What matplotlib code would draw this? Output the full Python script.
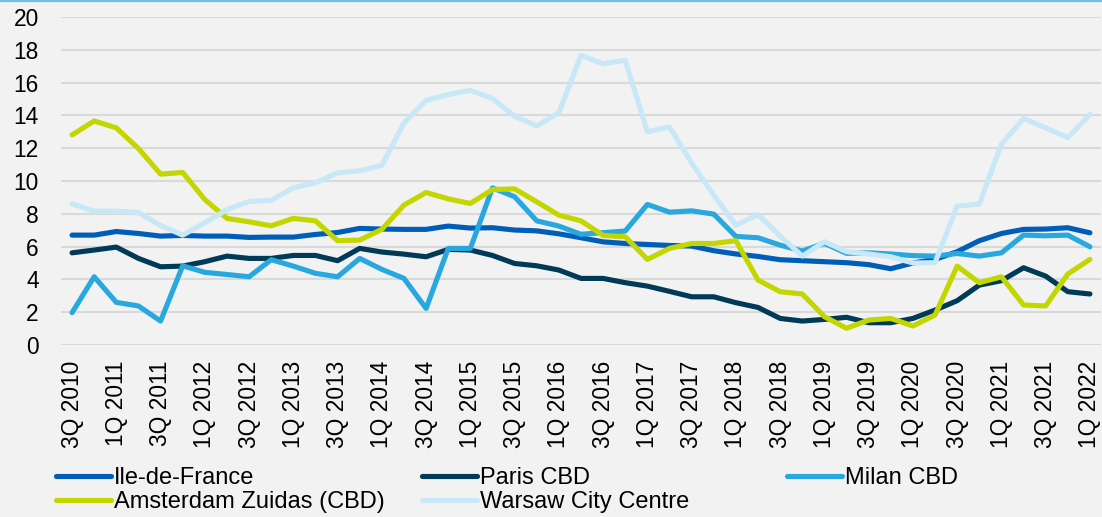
import numpy as np
import matplotlib
matplotlib.use('Agg')
import matplotlib.pyplot as plt
from matplotlib.lines import Line2D

plt.rcParams['font.family'] = ['Liberation Sans', 'DejaVu Sans']

# quarterly series, 3Q 2010 .. 1Q 2022
ile_de_france = [6.70, 6.70, 6.92, 6.80, 6.64, 6.68, 6.64, 6.64, 6.56, 6.58,
                 6.58, 6.74, 6.86, 7.11, 7.07, 7.05, 7.05, 7.25, 7.13, 7.15,
                 7.01, 6.96, 6.78, 6.54, 6.29, 6.19, 6.13, 6.07, 6.03, 5.75,
                 5.55, 5.40, 5.20, 5.14, 5.08, 5.02, 4.90, 4.65, 5.00, 5.22,
                 5.69, 6.36, 6.80, 7.05, 7.07, 7.15, 6.84]
paris_cbd = [5.62, 5.79, 5.97, 5.28, 4.77, 4.81, 5.08, 5.42, 5.28, 5.28,
             5.46, 5.46, 5.14, 5.89, 5.67, 5.54, 5.38, 5.83, 5.79, 5.46,
             4.97, 4.83, 4.57, 4.06, 4.06, 3.80, 3.59, 3.27, 2.94, 2.94,
             2.58, 2.29, 1.62, 1.46, 1.56, 1.69, 1.36, 1.36, 1.62, 2.13,
             2.70, 3.65, 3.92, 4.71, 4.20, 3.25, 3.11]
milan_cbd = [1.97, 4.16, 2.60, 2.38, 1.46, 4.83, 4.43, 4.30, 4.16, 5.20,
             4.81, 4.37, 4.16, 5.28, 4.61, 4.06, 2.23, 5.89, 5.89, 9.58,
             9.04, 7.57, 7.25, 6.75, 6.85, 6.95, 8.57, 8.10, 8.18, 7.98,
             6.62, 6.54, 6.09, 5.73, 6.20, 5.59, 5.62, 5.55, 5.45, 5.42,
             5.58, 5.42, 5.62, 6.70, 6.66, 6.70, 5.99]
amsterdam = [12.81, 13.66, 13.24, 11.98, 10.42, 10.52, 8.87, 7.72, 7.51, 7.27,
             7.72, 7.57, 6.36, 6.40, 7.05, 8.53, 9.30, 8.91, 8.63, 9.48,
             9.52, 8.73, 7.92, 7.57, 6.68, 6.60, 5.22, 5.89, 6.19, 6.19,
             6.36, 3.96, 3.25, 3.11, 1.73, 1.02, 1.52, 1.62, 1.16, 1.83,
             4.81, 3.80, 4.16, 2.44, 2.38, 4.33, 5.22]
warsaw = [8.61, 8.16, 8.16, 8.08, 7.29, 6.70, 7.45, 8.26, 8.75, 8.83,
          9.58, 9.89, 10.50, 10.62, 10.96, 13.54, 14.92, 15.27, 15.53, 15.03,
          13.95, 13.36, 14.17, 17.66, 17.15, 17.36, 13.00, 13.30, 11.10, 9.14,
          7.30, 7.95, 6.65, 5.42, 6.30, 5.69, 5.55, 5.38, 5.00, 5.02,
          8.47, 8.59, 12.24, 13.81, 13.24, 12.65, 14.05]

tick_labels = ['3Q 2010', '1Q 2011', '3Q 2011', '1Q 2012', '3Q 2012', '1Q 2013',
               '3Q 2013', '1Q 2014', '3Q 2014', '1Q 2015', '3Q 2015', '1Q 2016',
               '3Q 2016', '1Q 2017', '3Q 2017', '1Q 2018', '3Q 2018', '1Q 2019',
               '3Q 2019', '1Q 2020', '3Q 2020', '1Q 2021', '3Q 2021', '1Q 2022']

names = ['Ile-de-France', 'Paris CBD', 'Milan CBD', 'Amsterdam Zuidas (CBD)', 'Warsaw City Centre']
colours = ['#005EB8', '#003A57', '#29A8DF', '#C4D600', '#C8E8F7']
series = [ile_de_france, paris_cbd, milan_cbd, amsterdam, warsaw]

W, H = 1102, 517
bg = '#F2F2F2'
fig = plt.figure(figsize=(W / 100, H / 100), dpi=100, facecolor=bg)
ax = fig.add_axes([61 / W, 1 - 345 / H, 1040 / W, 328 / H])
ax.set_facecolor(bg)

x = np.arange(len(ile_de_france))
lines = []
for vals, col, name in zip(series, colours, names):
    l, = ax.plot(x, vals, color=col, lw=3.7, label=name,
                 solid_capstyle='round', solid_joinstyle='round')
    lines.append(l)

ax.set_xlim(-0.5, len(x) - 0.5)
ax.set_ylim(0, 20)
ax.set_yticks(range(0, 21, 2))
ax.set_xticks(x[::2])
ax.set_xticklabels(tick_labels, rotation=90)
ax.yaxis.grid(True, color='#D9D9D9', lw=1.5)
ax.set_axisbelow(True)
for s in ax.spines.values():
    s.set_visible(False)
ax.tick_params(axis='both', length=0, labelsize=16.4, colors='black')
ax.tick_params(axis='y', pad=16)
ax.tick_params(axis='x', pad=11)

# thin light-blue rule along the top
fig.add_artist(Line2D([0, 1], [1 - 1 / H, 1 - 1 / H], transform=fig.transFigure,
                      color='#6EC1E4', lw=1.6))

# legend, three equal-width columns
cols = [([0, 3], 56), ([1, 4], 422), ([2], 787)]
for idx, xpos in cols:
    fig.legend([lines[i] for i in idx], [names[i] for i in idx],
               loc='upper left', bbox_to_anchor=(xpos / W, 1 - 467 / H),
               frameon=False, fontsize=17, handlelength=2.35, handletextpad=0.12,
               borderpad=0, borderaxespad=0, labelspacing=0.1)

fig.savefig('out.png', dpi=100, facecolor=bg)
